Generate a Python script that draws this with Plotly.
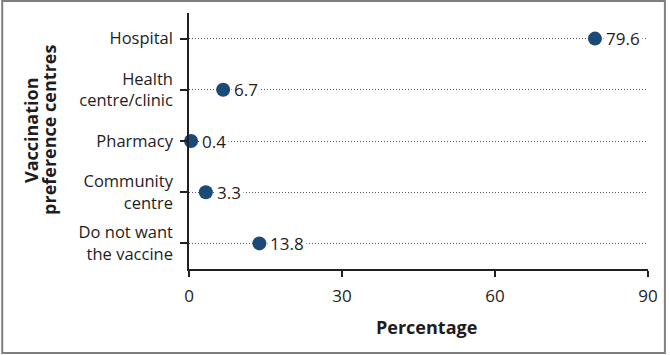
import plotly.graph_objects as go

categories = ["Hospital", "Health<br>centre/clinic", "Pharmacy", "Community<br>centre", "Do not want<br>the vaccine"]
values = [79.6, 6.7, 0.4, 3.3, 13.8]
value_labels = ["79.6", "6.7", "0.4", "3.3", "13.8"]
x_ticks = [0, 30, 60, 90]

W, H = 670, 355
L, R, T, B = 189, 19, 13, 86
pw, ph = W - L - R, H - T - B

FONT = "Open Sans"
TXT = "#1f1c1d"
DOT = "#1b4a78"


def px(xp):
    return (xp - L) / pw


def py(yp):
    return (T + ph - yp) / ph


fig = go.Figure()
fig.add_trace(go.Scatter(
    x=values, y=categories, mode="markers",
    marker=dict(size=14, color=DOT),
    showlegend=False, hoverinfo="skip", cliponaxis=False,
))

for v, c, t in zip(values, categories, value_labels):
    fig.add_annotation(x=v, y=c, text=t, showarrow=False, xanchor="left", yanchor="middle",
                       xshift=8, bgcolor="white", borderpad=2,
                       font=dict(family=FONT, size=17, color=TXT))

# axis titles
fig.add_annotation(x=px(428), y=py(327), xref="paper", yref="paper",
                   xanchor="center", yanchor="middle",
                   text="<b>Percentage</b>", showarrow=False,
                   font=dict(family=FONT, size=18, color=TXT))
for xp, line in [(30, "Vaccination"), (48, "preference centres")]:
    fig.add_annotation(x=px(xp), y=py(130), xref="paper", yref="paper",
                       xanchor="center", yanchor="middle",
                       text="<b>" + line + "</b>", showarrow=False,
                       textangle=-90, font=dict(family=FONT, size=18, color=TXT))

# outer border
fig.add_shape(type="rect", xref="paper", yref="paper",
              x0=px(1), x1=px(668), y0=py(353), y1=py(1),
              line=dict(color="#7f7f7f", width=2), layer="below")

fig.update_xaxes(range=[0, 90], tickvals=x_ticks, showgrid=False, zeroline=False,
                 showline=True, linecolor="#231f20", linewidth=1.5,
                 ticks="outside", ticklen=6, tickcolor="#231f20", tickwidth=1.5,
                 ticklabelstandoff=5,
                 tickfont=dict(family=FONT, size=17, color=TXT))
fig.update_yaxes(type="category", categoryorder="array", categoryarray=categories,
                 autorange=False, range=[4.5, -0.5],
                 showgrid=True, gridcolor="#555555", griddash="1px,2px", gridwidth=1,
                 showline=True, linecolor="#231f20", linewidth=1.5,
                 ticks="outside", ticklen=7, tickcolor="#231f20", tickwidth=1.5,
                 ticklabelstandoff=4,
                 tickfont=dict(family=FONT, size=16.5, color=TXT))

fig.update_layout(width=W, height=H, margin=dict(l=L, r=R, t=T, b=B),
                  paper_bgcolor="white", plot_bgcolor="white",
                  font=dict(family=FONT, color=TXT))

fig.write_html("out.html")
